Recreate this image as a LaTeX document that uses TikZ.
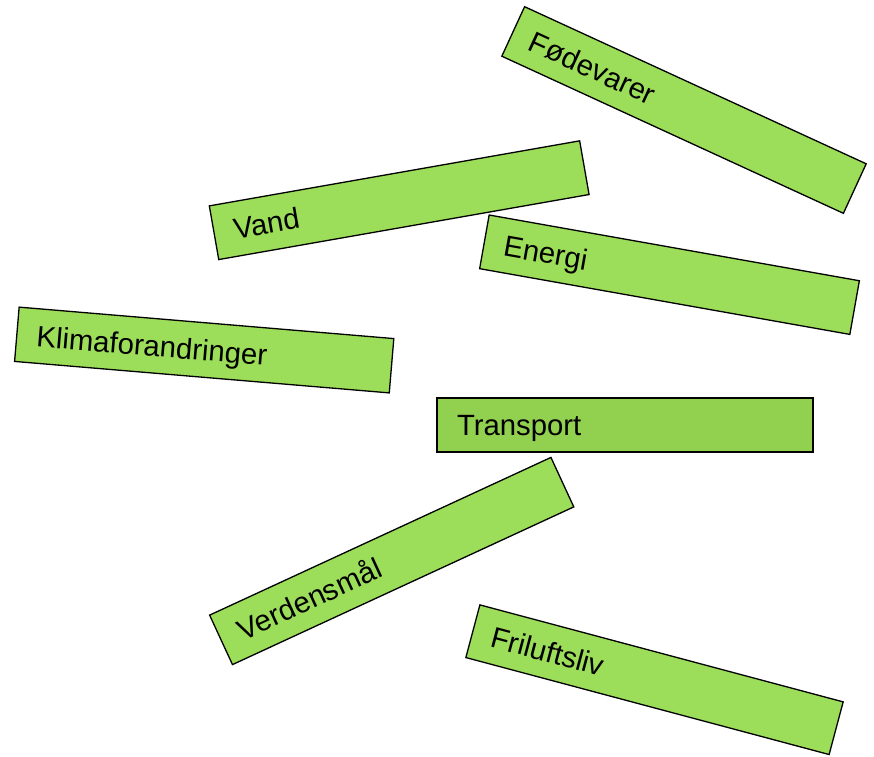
\documentclass[tikz,border=0pt]{standalone}
\usepackage{fontspec}
\setmainfont{Liberation Sans}
\definecolor{lgreen}{RGB}{156,221,90}
\definecolor{dgreen}{RGB}{146,208,80}
\begin{document}
\begin{tikzpicture}[x=1pt,y=-1pt,
  topic/.style={draw=black, line width=1.3pt, fill=lgreen, rectangle,
    minimum width=376pt, minimum height=54.5pt, text width=336pt,
    inner xsep=20pt, inner ysep=16pt, align=left,
    font=\fontsize{29.3pt}{32pt}\selectfont, text height=21pt, text depth=0pt}]
\useasboundingbox (0,0) rectangle (874,756);
\node[topic, rotate=-24.7] (foede) at (684,110) {Fødevarer};
\node[topic, rotate=9.96] (vand) at (399.2,200.2) {Vand};
\node[topic, rotate=-10.07] (energi) at (669.5,274.7) {Energi};
\node[topic, rotate=-4.8] (klima) at (204.2,350) {Klimaforandringer};
\node[topic, fill=dgreen, line width=1.8pt] (transport) at (625,425) {Transport};
\node[topic, rotate=24.8] (verden) at (391.7,561) {Verdensmål};
\node[topic, rotate=-14.95] (friluft) at (654.5,679.7) {Friluftsliv};
\end{tikzpicture}
\end{document}
